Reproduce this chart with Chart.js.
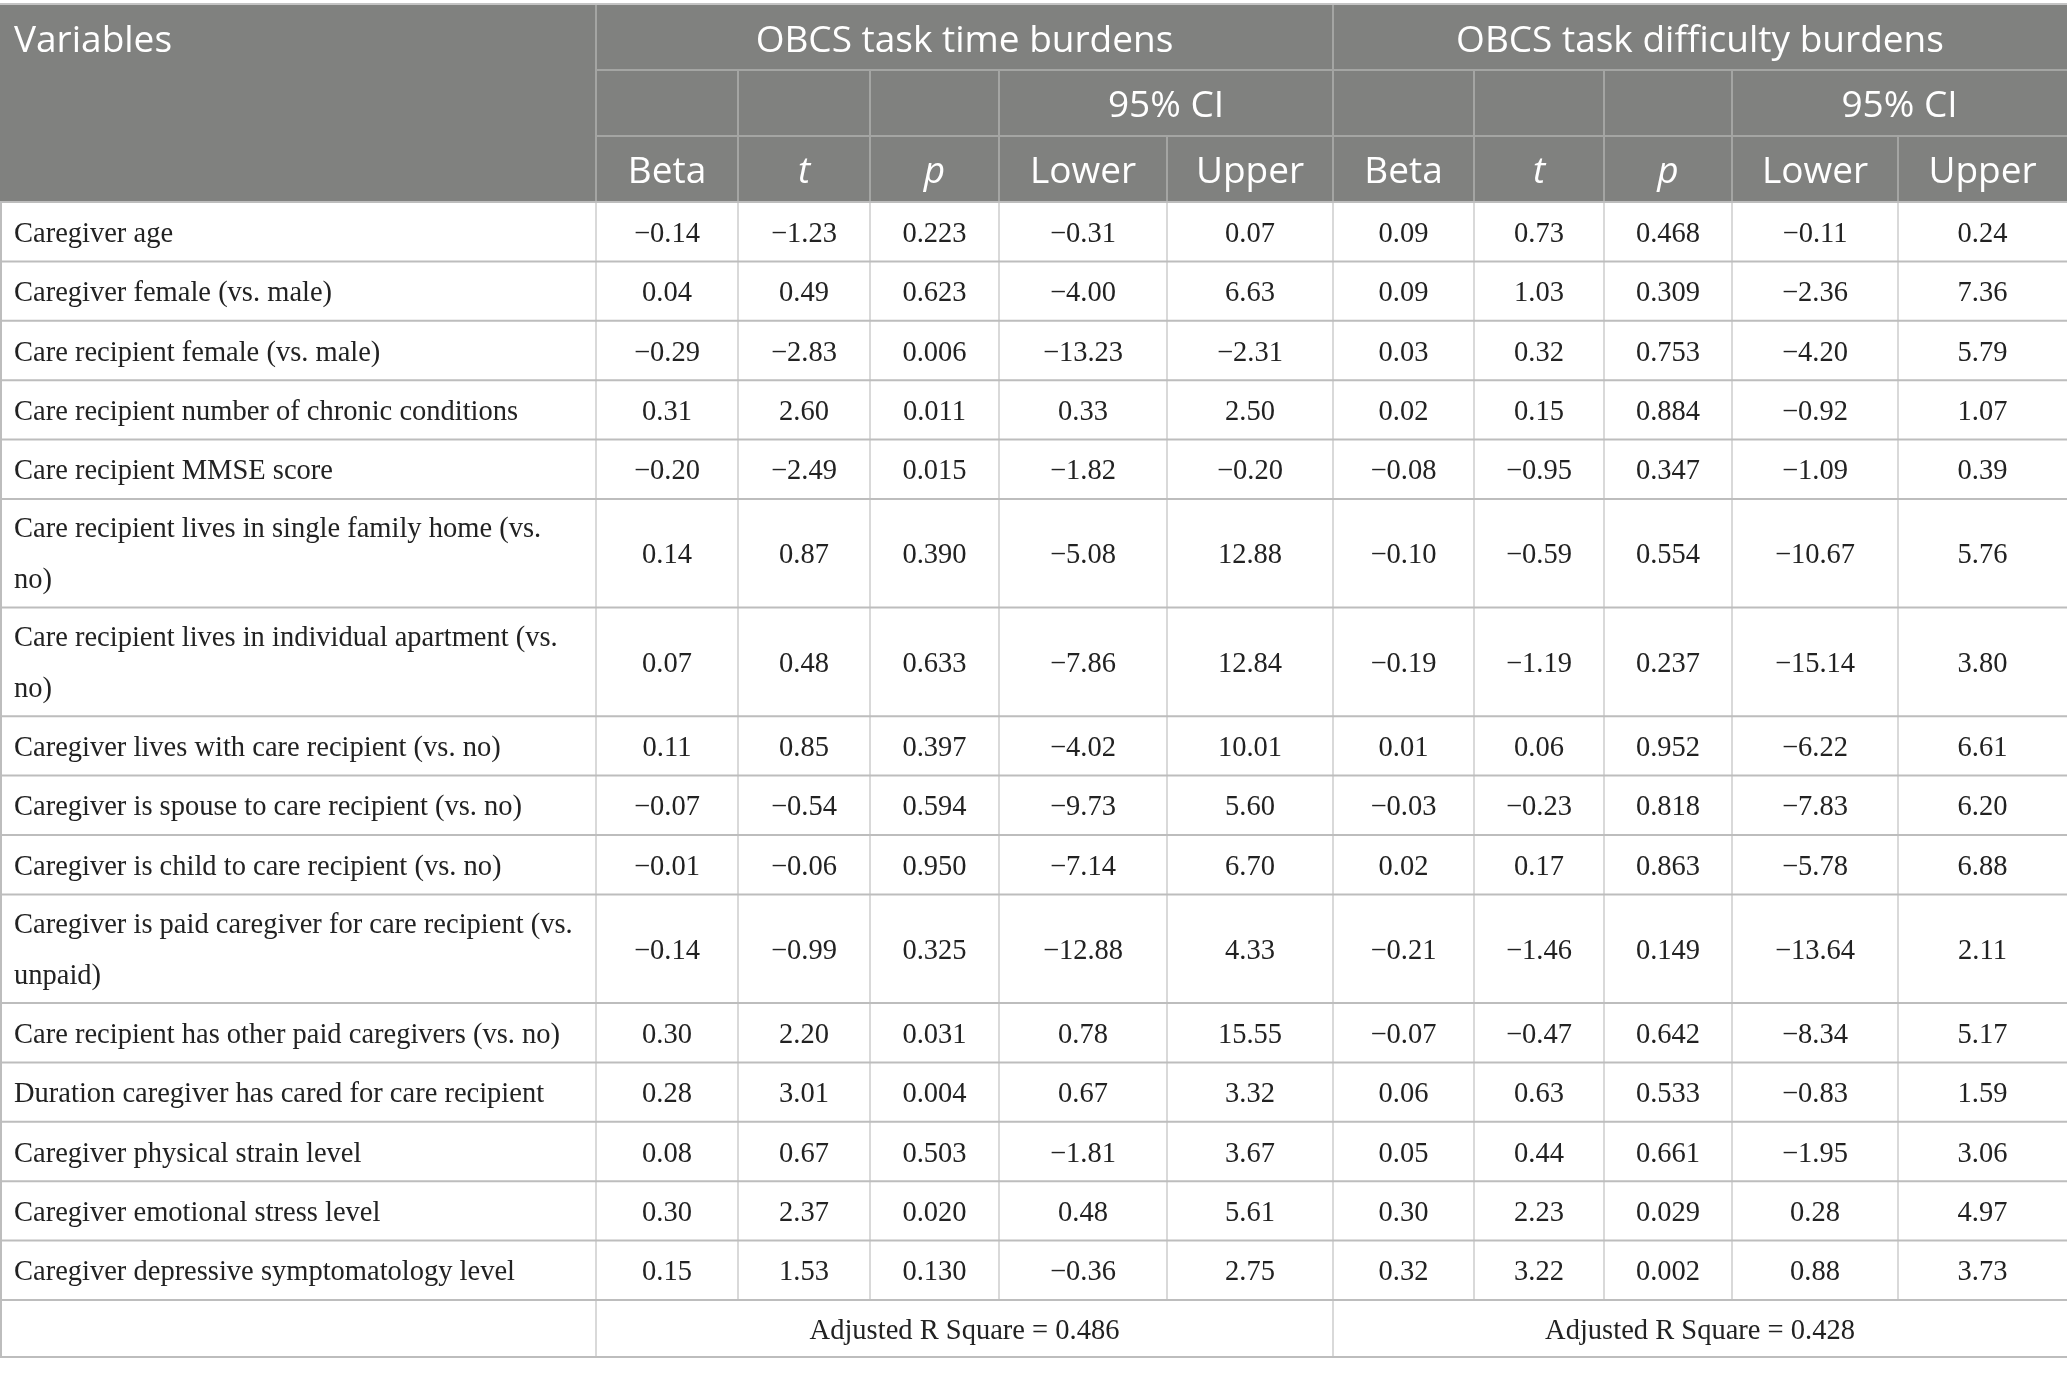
<!DOCTYPE html>
<html>
<head>
<meta charset="utf-8">
<style>
  html, body { margin: 0; padding: 0; background: #ffffff; }
  canvas { display: block; }
</style>
<script src="https://cdn.jsdelivr.net/npm/chart.js@4.4.1/dist/chart.umd.min.js"></script>
</head>
<body>
<canvas id="tabla" width="2067" height="1376"></canvas>
<script>
// Datos de la tabla
var variables = [
  ['Caregiver age'],
  ['Caregiver female (vs. male)'],
  ['Care recipient female (vs. male)'],
  ['Care recipient number of chronic conditions'],
  ['Care recipient MMSE score'],
  ['Care recipient lives in single family home (vs.', 'no)'],
  ['Care recipient lives in individual apartment (vs.', 'no)'],
  ['Caregiver lives with care recipient (vs. no)'],
  ['Caregiver is spouse to care recipient (vs. no)'],
  ['Caregiver is child to care recipient (vs. no)'],
  ['Caregiver is paid caregiver for care recipient (vs.', 'unpaid)'],
  ['Care recipient has other paid caregivers (vs. no)'],
  ['Duration caregiver has cared for care recipient'],
  ['Caregiver physical strain level'],
  ['Caregiver emotional stress level'],
  ['Caregiver depressive symptomatology level']
];

// OBCS task time burdens
var timeBeta  = [-0.14, 0.04, -0.29, 0.31, -0.20, 0.14, 0.07, 0.11, -0.07, -0.01, -0.14, 0.30, 0.28, 0.08, 0.30, 0.15];
var timeT     = [-1.23, 0.49, -2.83, 2.60, -2.49, 0.87, 0.48, 0.85, -0.54, -0.06, -0.99, 2.20, 3.01, 0.67, 2.37, 1.53];
var timeP     = [0.223, 0.623, 0.006, 0.011, 0.015, 0.390, 0.633, 0.397, 0.594, 0.950, 0.325, 0.031, 0.004, 0.503, 0.020, 0.130];
var timeLower = [-0.31, -4.00, -13.23, 0.33, -1.82, -5.08, -7.86, -4.02, -9.73, -7.14, -12.88, 0.78, 0.67, -1.81, 0.48, -0.36];
var timeUpper = [0.07, 6.63, -2.31, 2.50, -0.20, 12.88, 12.84, 10.01, 5.60, 6.70, 4.33, 15.55, 3.32, 3.67, 5.61, 2.75];

// OBCS task difficulty burdens
var diffBeta  = [0.09, 0.09, 0.03, 0.02, -0.08, -0.10, -0.19, 0.01, -0.03, 0.02, -0.21, -0.07, 0.06, 0.05, 0.30, 0.32];
var diffT     = [0.73, 1.03, 0.32, 0.15, -0.95, -0.59, -1.19, 0.06, -0.23, 0.17, -1.46, -0.47, 0.63, 0.44, 2.23, 3.22];
var diffP     = [0.468, 0.309, 0.753, 0.884, 0.347, 0.554, 0.237, 0.952, 0.818, 0.863, 0.149, 0.642, 0.533, 0.661, 0.029, 0.002];
var diffLower = [-0.11, -2.36, -4.20, -0.92, -1.09, -10.67, -15.14, -6.22, -7.83, -5.78, -13.64, -8.34, -0.83, -1.95, 0.28, 0.88];
var diffUpper = [0.24, 7.36, 5.79, 1.07, 0.39, 5.76, 3.80, 6.61, 6.20, 6.88, 2.11, 5.17, 1.59, 3.06, 4.97, 3.73];

var adjustedR2 = [0.486, 0.428];
var groupLabels = ['OBCS task time burdens', 'OBCS task difficulty burdens'];
var statLabels = ['Beta', 't', 'p', 'Lower', 'Upper'];
var ciLabel = '95% CI';
var firstHeader = 'Variables';

// Disposicion (unidades de lienzo)
var colEdges = [0, 596, 738, 870, 999, 1167, 1333, 1474, 1604, 1732, 1898, 2067];
var headEdges = [5, 70, 136, 202];
var rowSingle = 59.4, rowDouble = 108.6, rowLast = 57;
var padLeft = 14;

var headFont = '37px "Open Sans"';
var headFontIt = 'italic 37px "Open Sans"';
var bodyFont = '28.5px "Liberation Serif"';
var headBg = '#80817f';
var headLine = '#a4a5a3';
var bodyHLine = '#bdbdbd';
var bodyVLine = '#cdcdcd';
var bodyColor = '#222222';

function fmt(v, d) {
  return (v < 0 ? '\u2212' : '') + Math.abs(v).toFixed(d);
}

// bordes de filas del cuerpo
var rowEdges = [headEdges[3]];
variables.forEach(function (lab) {
  rowEdges.push(rowEdges[rowEdges.length - 1] + (lab.length > 1 ? rowDouble : rowSingle));
});
rowEdges.push(rowEdges[rowEdges.length - 1] + rowLast);

function colMid(a, b) { return (colEdges[a] + colEdges[b]) / 2; }

// Puntos (uno por celda con texto)
var cells = [];
function addCell(x, y, text, opts) {
  opts = opts || {};
  cells.push({
    x: x, y: y,
    text: Array.isArray(text) ? text : [text],
    align: opts.align || 'center',
    font: opts.font || bodyFont,
    color: opts.color || bodyColor,
    head: !!opts.head
  });
}

var hMid = [0, 1, 2].map(function (i) { return (headEdges[i] + headEdges[i + 1]) / 2; });
addCell(padLeft, hMid[0], firstHeader, { align: 'left', font: headFont, color: '#ffffff', head: true });
groupLabels.forEach(function (g, gi) {
  var c0 = 1 + gi * 5;
  addCell(colMid(c0, c0 + 5), hMid[0], g, { font: headFont, color: '#ffffff', head: true });
  addCell(colMid(c0 + 3, c0 + 5), hMid[1], ciLabel, { font: headFont, color: '#ffffff', head: true });
  statLabels.forEach(function (s, si) {
    var italic = (s === 't' || s === 'p');
    addCell(colMid(c0 + si, c0 + si + 1), hMid[2], s, { font: italic ? headFontIt : headFont, color: '#ffffff', head: true });
  });
});

var bodyCols = [
  [timeBeta, 2], [timeT, 2], [timeP, 3], [timeLower, 2], [timeUpper, 2],
  [diffBeta, 2], [diffT, 2], [diffP, 3], [diffLower, 2], [diffUpper, 2]
];
variables.forEach(function (lab, r) {
  var yc = (rowEdges[r] + rowEdges[r + 1]) / 2;
  addCell(padLeft, yc, lab, { align: 'left' });
  bodyCols.forEach(function (bc, c) {
    addCell(colMid(c + 1, c + 2), yc, fmt(bc[0][r], bc[1]));
  });
});
var nR = variables.length;
var yLast = (rowEdges[nR] + rowEdges[nR + 1]) / 2;
adjustedR2.forEach(function (v, i) {
  addCell(colMid(1 + i * 5, 6 + i * 5), yLast, 'Adjusted R Square = ' + v.toFixed(3));
});

// Plugin: fondo, lineas y textos de la tabla
var tablaPlugin = {
  id: 'tabla',
  beforeDatasetsDraw: function (chart) {
    var ctx = chart.ctx, sx = chart.scales.x, sy = chart.scales.y;
    function X(v) { return sx.getPixelForValue(v); }
    function Y(v) { return sy.getPixelForValue(v); }
    function hLine(y, x0, x1, color, w) {
      ctx.strokeStyle = color; ctx.lineWidth = w;
      ctx.beginPath(); ctx.moveTo(X(x0), Y(y)); ctx.lineTo(X(x1), Y(y)); ctx.stroke();
    }
    function vLine(x, y0, y1, color, w) {
      ctx.strokeStyle = color; ctx.lineWidth = w;
      ctx.beginPath(); ctx.moveTo(X(x), Y(y0)); ctx.lineTo(X(x), Y(y1)); ctx.stroke();
    }
    ctx.save();
    var full = colEdges[colEdges.length - 1];
    // cabecera
    ctx.fillStyle = headBg;
    ctx.fillRect(X(0), Y(headEdges[0]), X(full) - X(0), Y(headEdges[3]) - Y(headEdges[0]));
    hLine(headEdges[0] - 1, 0, full, '#c4c4c4', 2);
    hLine(headEdges[1], colEdges[1], full, headLine, 2);
    hLine(headEdges[2], colEdges[1], full, headLine, 2);
    vLine(colEdges[1], headEdges[0], headEdges[3], headLine, 2);
    vLine(colEdges[6], headEdges[0], headEdges[3], headLine, 2);
    [2, 3, 4, 7, 8, 9].forEach(function (c) { vLine(colEdges[c], headEdges[1], headEdges[3], headLine, 2); });
    [5, 10].forEach(function (c) { vLine(colEdges[c], headEdges[2], headEdges[3], headLine, 2); });
    // cuerpo
    var yEnd = rowEdges[nR];
    for (var c = 0; c < colEdges.length - 1; c++) {
      vLine(colEdges[c] + (c === 0 ? 1 : 0), headEdges[3], yEnd, c === 0 ? bodyHLine : bodyVLine, c === 0 ? 2 : 1.5);
    }
    vLine(1, yEnd, rowEdges[nR + 1], bodyHLine, 2);
    vLine(colEdges[1], yEnd, rowEdges[nR + 1], bodyVLine, 1.5);
    vLine(colEdges[6], yEnd, rowEdges[nR + 1], bodyVLine, 1.5);
    rowEdges.forEach(function (y) { hLine(y, 0, full, bodyHLine, 2); });
    ctx.restore();
  },
  afterDatasetsDraw: function (chart) {
    var ctx = chart.ctx;
    var meta = chart.getDatasetMeta(0);
    var data = chart.data.datasets[0].data;
    ctx.save();
    meta.data.forEach(function (pt, i) {
      var d = data[i];
      ctx.font = d.font;
      ctx.fillStyle = d.color;
      ctx.textAlign = d.align;
      ctx.textBaseline = 'alphabetic';
      if (d.text.length === 1) {
        ctx.fillText(d.text[0], pt.x, pt.y + (d.head ? 14 : 10));
      } else {
        ctx.fillText(d.text[0], pt.x, pt.y - 16);
        ctx.fillText(d.text[1], pt.x, pt.y + 35);
      }
    });
    ctx.restore();
  }
};

var config = {
  type: 'scatter',
  data: {
    datasets: [{
      data: cells,
      pointRadius: 0,
      pointHoverRadius: 0
    }]
  },
  options: {
    responsive: false,
    animation: false,
    events: [],
    layout: { padding: 0 },
    plugins: { legend: { display: false }, tooltip: { enabled: false } },
    scales: {
      x: { type: 'linear', min: 0, max: colEdges[colEdges.length - 1], display: false },
      y: { type: 'linear', min: 0, max: 1376, reverse: true, display: false }
    }
  },
  plugins: [tablaPlugin]
};

var tabla = new Chart(document.getElementById('tabla'), config);
</script>
</body>
</html>
